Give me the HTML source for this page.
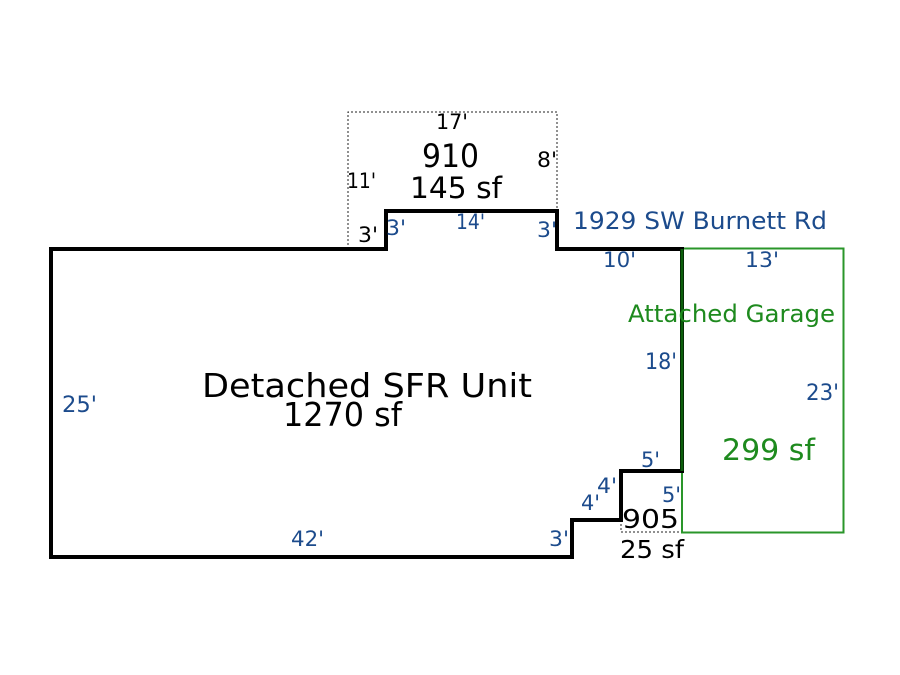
<!DOCTYPE html>
<html>
<head>
<meta charset="utf-8">
<style>
html,body{margin:0;padding:0;background:#fff;}
svg{display:block;}
text{font-family:"DejaVu Sans","Liberation Sans",sans-serif;}
.b{fill:#1c4b8c;}
.k{fill:#000;}
.g{fill:#1e8a1e;}
</style>
</head>
<body>
<svg width="900" height="675" viewBox="0 0 900 675" xmlns="http://www.w3.org/2000/svg">
<rect width="900" height="675" fill="#fff"/>
<!-- dotted 910 box -->
<path d="M348,249 V112 H557 V211" fill="none" stroke="#222" stroke-width="1" stroke-dasharray="2,2"/>
<!-- dotted 905 box -->
<path d="M621,520 V532 H682" fill="none" stroke="#222" stroke-width="1" stroke-dasharray="2,2"/>
<!-- garage -->
<rect x="682" y="248.5" width="161.5" height="284" fill="none" stroke="#2a962a" stroke-width="2"/>
<!-- main shape -->
<path d="M51,249 H386 V211 H557 V249 H682 V471 H621 V520 H572 V557 H51 Z" fill="none" stroke="#000" stroke-width="4" stroke-linejoin="miter"/>
<line x1="682" y1="249" x2="682" y2="471" stroke="#0b5e0b" stroke-width="3"/>

<!-- 910 labels -->
<text class="k" x="436" y="129" font-size="21" textLength="32" lengthAdjust="spacingAndGlyphs">17'</text>
<text class="k" x="422" y="167" font-size="32" textLength="57" lengthAdjust="spacingAndGlyphs">910</text>
<text class="k" x="410" y="198" font-size="29" textLength="92" lengthAdjust="spacingAndGlyphs">145 sf</text>
<text class="k" x="537" y="167" font-size="21" textLength="20" lengthAdjust="spacingAndGlyphs">8'</text>
<text class="k" x="347" y="188" font-size="21" textLength="29" lengthAdjust="spacingAndGlyphs">11'</text>
<text class="k" x="358" y="242" font-size="21" textLength="20" lengthAdjust="spacingAndGlyphs">3'</text>
<text class="b" x="386" y="235" font-size="21" textLength="20" lengthAdjust="spacingAndGlyphs">3'</text>
<text class="b" x="456" y="229" font-size="21" textLength="29" lengthAdjust="spacingAndGlyphs">14'</text>
<text class="b" x="537" y="237" font-size="21" textLength="20" lengthAdjust="spacingAndGlyphs">3'</text>

<!-- address and top right -->
<text class="b" x="573" y="229" font-size="24" textLength="254" lengthAdjust="spacingAndGlyphs">1929 SW Burnett Rd</text>
<text class="b" x="603" y="267" font-size="21" textLength="33" lengthAdjust="spacingAndGlyphs">10'</text>
<text class="b" x="745" y="267" font-size="21" textLength="34" lengthAdjust="spacingAndGlyphs">13'</text>
<text class="g" x="628" y="322" font-size="24" textLength="207" lengthAdjust="spacingAndGlyphs">Attached Garage</text>
<text class="b" x="645" y="369" font-size="22" textLength="32" lengthAdjust="spacingAndGlyphs">18'</text>
<text class="b" x="806" y="400" font-size="22" textLength="33" lengthAdjust="spacingAndGlyphs">23'</text>
<text class="g" x="722" y="460" font-size="29" textLength="93" lengthAdjust="spacingAndGlyphs">299 sf</text>

<!-- main labels -->
<text class="k" x="202" y="397" font-size="33" textLength="330" lengthAdjust="spacingAndGlyphs">Detached SFR Unit</text>
<text class="k" x="283" y="426" font-size="33" textLength="119" lengthAdjust="spacingAndGlyphs">1270 sf</text>
<text class="b" x="62" y="412" font-size="22" textLength="35" lengthAdjust="spacingAndGlyphs">25'</text>
<text class="b" x="291" y="546" font-size="21" textLength="33" lengthAdjust="spacingAndGlyphs">42'</text>
<text class="b" x="549" y="546" font-size="21" textLength="20" lengthAdjust="spacingAndGlyphs">3'</text>

<!-- bottom right step labels -->
<text class="b" x="581" y="510" font-size="21" textLength="19" lengthAdjust="spacingAndGlyphs">4'</text>
<text class="b" x="597" y="493" font-size="21" textLength="20" lengthAdjust="spacingAndGlyphs">4'</text>
<text class="b" x="641" y="467" font-size="21" textLength="19" lengthAdjust="spacingAndGlyphs">5'</text>
<text class="b" x="662" y="502" font-size="21" textLength="19" lengthAdjust="spacingAndGlyphs">5'</text>
<text class="k" x="622" y="528" font-size="26" textLength="57" lengthAdjust="spacingAndGlyphs">905</text>
<text class="k" x="620" y="558" font-size="25" textLength="64" lengthAdjust="spacingAndGlyphs">25 sf</text>
</svg>
</body>
</html>
